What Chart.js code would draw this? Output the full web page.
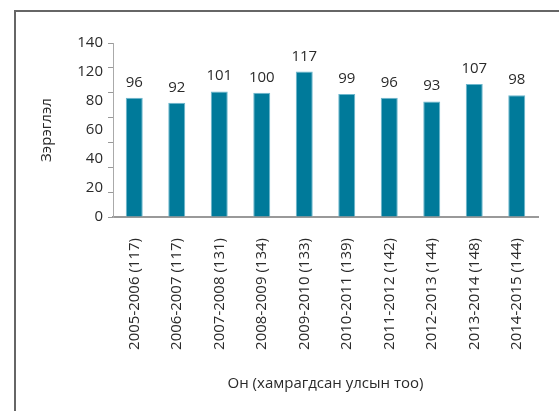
<!DOCTYPE html>
<html>
<head>
<meta charset="utf-8">
<script src="https://cdn.jsdelivr.net/npm/chart.js@4/dist/chart.umd.min.js"></script>
<style>
  html, body { margin: 0; padding: 0; background: #fff; overflow: hidden; }
  #wrap { position: relative; width: 559px; height: 411px; overflow: hidden; }
  #frame { position: absolute; left: 14px; top: 10px; width: 700px; height: 600px; border: 2px solid #666; }
  #c { position: absolute; left: 0; top: 0; }
</style>
</head>
<body>
<div id="wrap">
  <div id="frame"></div>
  <canvas id="c" width="559" height="411"></canvas>
</div>
<script>
// ── Data ──────────────────────────────────────────────────────────────
const years       = ['2005-2006 (117)', '2006-2007 (117)', '2007-2008 (131)', '2008-2009 (134)', '2009-2010 (133)',
                     '2010-2011 (139)', '2011-2012 (142)', '2012-2013 (144)', '2013-2014 (148)', '2014-2015 (144)'];
const ranks       = [96, 92, 101, 100, 117, 99, 96, 93, 107, 98];
const yTickLabels = ['0', '20', '40', '60', '80', '120', '140'];   // as printed on the source axis

const FONT = '"Open Sans", "DejaVu Sans", sans-serif';
const INK  = '#2a2a2a';

// ── Value labels above bars ───────────────────────────────────────────
const valueLabels = {
    id: 'valueLabels',
    afterDatasetsDraw(chart) {
        const ctx = chart.ctx;
        ctx.save();
        ctx.font = '15px ' + FONT;
        ctx.fillStyle = INK;
        ctx.textAlign = 'center';
        ctx.textBaseline = 'alphabetic';
        chart.getDatasetMeta(0).data.forEach((bar, i) => {
            ctx.fillText(ranks[i], bar.x, bar.y - 11);
        });
        ctx.restore();
    }
};

new Chart(document.getElementById('c'), {
    type: 'bar',
    data: {
        labels: years,
        datasets: [{
            data: ranks,
            backgroundColor: '#007a9a',
            borderColor: '#6db7cd',
            borderWidth: 1,
            borderSkipped: 'bottom',
            categoryPercentage: 1,
            barPercentage: 0.4
        }]
    },
    options: {
        responsive: false,
        animation: false,
        layout: { padding: { left: 0, right: 21, top: 43, bottom: 0 } },
        plugins: { legend: { display: false }, tooltip: { enabled: false } },
        scales: {
            x: {
                grid: { display: false, drawTicks: false },
                border: { display: true, color: '#999', width: 2 },
                ticks: {
                    minRotation: 90, maxRotation: 90, padding: 21,
                    color: INK, font: { family: FONT, size: 15 }
                },
                title: {
                    display: true, text: 'Он (хамрагдсан улсын тоо)',
                    color: INK, font: { family: FONT, size: 15 },
                    padding: { top: 0, bottom: 18 }
                },
                afterFit: s => { s.height = 194; }
            },
            y: {
                position: 'left',
                weight: 0,
                min: 0, max: 140,
                ticks: { stepSize: 20, display: false },
                grid: { drawOnChartArea: false, drawTicks: true, tickLength: 5, color: '#999' },
                border: { display: true, color: '#aaa', width: 1 },
                afterFit: s => { s.width = 5; }
            },
            yLab: {
                position: 'left',
                weight: 1,
                min: 0, max: yTickLabels.length - 1,
                grid: { display: false, drawTicks: false },
                border: { display: false },
                ticks: {
                    stepSize: 1, padding: 5,
                    color: INK, font: { family: FONT, size: 15 },
                    callback: v => yTickLabels[v]
                },
                title: {
                    display: true, text: 'Зэрэглэл',
                    color: INK, font: { family: FONT, size: 15 },
                    padding: { top: 38, bottom: 0 }
                },
                afterFit: s => { s.width = 108; }
            }
        }
    },
    plugins: [valueLabels]
});
</script>
</body>
</html>
